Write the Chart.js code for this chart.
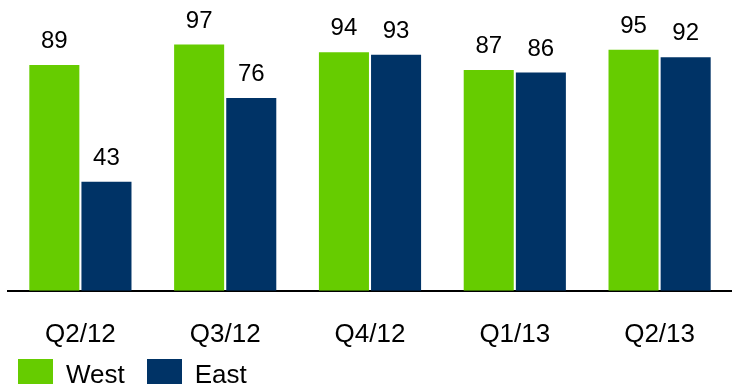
<!DOCTYPE html>
<html>
<head>
<meta charset="utf-8">
<script src="https://cdn.jsdelivr.net/npm/chart.js@4.4.1/dist/chart.umd.min.js"></script>
<style>
  html, body { margin: 0; padding: 0; background: #fff; overflow: hidden; }
  #wrap { position: relative; width: 732px; height: 384px; overflow: hidden; }
  #box { position: absolute; left: 0; top: 0; width: 732px; height: 378px; }
  #legend { position: absolute; left: 18px; top: 359px; font: 26px "Liberation Sans", Arial, sans-serif; color: #000; white-space: nowrap; }
  #legend span.sw { display: inline-block; width: 35px; height: 28px; vertical-align: top; }
  #legend span.lb { display: inline-block; vertical-align: top; line-height: 30px; margin: 0 0 0 13px; }
</style>
</head>
<body>
<div id="wrap">
  <div id="box"><canvas id="myChart"></canvas></div>
  <div id="legend"></div>
</div>
<script>
var quarters = ["Q2/12", "Q3/12", "Q4/12", "Q1/13", "Q2/13"],
    west     = [89, 97, 94, 87, 95],
    east     = [43, 76, 93, 86, 92],
    names    = ["West", "East"],
    colors   = ["#66CC00", "#003366"];

var fontFamily = '"Liberation Sans", Arial, sans-serif';

// writes the value above each bar
var valueLabels = {
  id: 'valueLabels',
  afterDatasetsDraw: function(chart) {
    var ctx = chart.ctx;
    ctx.save();
    ctx.font = '24px ' + fontFamily;
    ctx.fillStyle = '#000';
    ctx.textAlign = 'center';
    ctx.textBaseline = 'alphabetic';
    chart.data.datasets.forEach(function(ds, i) {
      chart.getDatasetMeta(i).data.forEach(function(bar, j) {
        ctx.fillText(ds.data[j], bar.x, bar.y - 17);
      });
    });
    ctx.restore();
  }
};

var myChart = new Chart(document.getElementById("myChart"), {
  type: 'bar',
  data: {
    labels: quarters,
    datasets: [
      { label: names[0], data: west, backgroundColor: colors[0] },
      { label: names[1], data: east, backgroundColor: colors[1] }
    ]
  },
  options: {
    responsive: true,
    maintainAspectRatio: false,
    animation: false,
    layout: { padding: { left: 8, right: -3, top: 37, bottom: 0 } },
    categoryPercentage: 0.72,
    barPercentage: 0.96,
    plugins: {
      legend: { display: false },
      tooltip: { enabled: false }
    },
    scales: {
      x: {
        grid: { display: false, drawTicks: false },
        border: { display: true, color: '#000', width: 2 },
        ticks: { color: '#000', padding: 28, font: { family: fontFamily, size: 26 } }
      },
      y: {
        display: false,
        min: 0,
        max: 100
      }
    }
  },
  plugins: [valueLabels]
});

// legend under the axis labels
var legend = document.getElementById("legend");
names.forEach(function(n, i) {
  var sw = document.createElement("span");
  sw.className = "sw";
  sw.style.background = colors[i];
  if (i > 0) sw.style.marginLeft = "22px";
  var lb = document.createElement("span");
  lb.className = "lb";
  lb.textContent = n;
  legend.appendChild(sw);
  legend.appendChild(lb);
});
</script>
</body>
</html>
